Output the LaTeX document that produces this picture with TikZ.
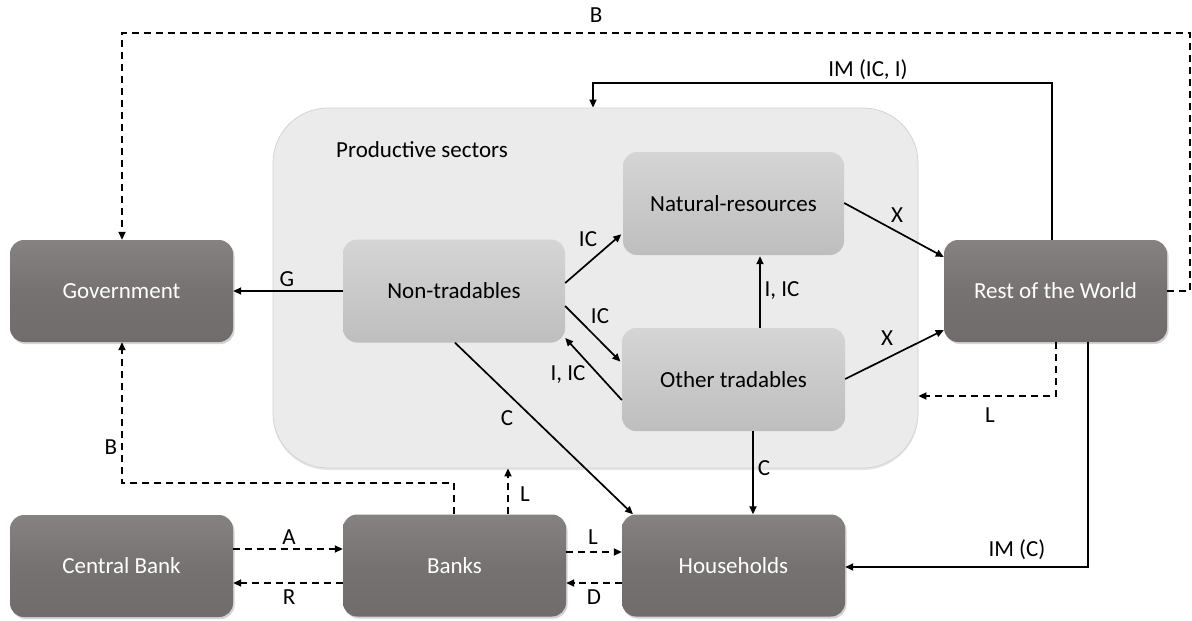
\documentclass[tikz,border=0pt]{standalone}
\usepackage{fontspec}
\setmainfont{Carlito}
\usetikzlibrary{arrows.meta,shadows}
\definecolor{dtop}{RGB}{134,130,130}
\definecolor{dmid}{RGB}{118,114,114}
\definecolor{dbot}{RGB}{112,108,108}
\definecolor{ltop}{RGB}{213,213,213}
\definecolor{lbot}{RGB}{190,190,190}
\definecolor{cont}{RGB}{235,235,235}
\definecolor{contedge}{RGB}{212,212,212}
\begin{document}
\begin{tikzpicture}[x=1pt,y=-1pt,
  every node/.style={font=\fontsize{23}{27}\selectfont},
  darkbox/.style={rounded corners=14pt, minimum width=223pt, minimum height=102pt,
     top color=dtop, bottom color=dbot, middle color=dmid, text=white,
     drop shadow={opacity=0.35, shadow xshift=1.5pt, shadow yshift=-2pt}},
  lightbox/.style={rounded corners=14pt, minimum width=222pt, minimum height=103pt,
     top color=ltop, bottom color=lbot},
  container/.style={rounded corners=55pt, minimum width=645pt, minimum height=360pt,
     fill=cont, draw=contedge, line width=0.8pt,
     drop shadow={opacity=0.2, shadow xshift=0pt, shadow yshift=-2pt}},
  arr/.style={line width=1.7pt, -{Triangle[length=8pt,width=7pt]}},
  darr/.style={line width=1.7pt, dash pattern=on 7pt off 5pt, -{Triangle[length=8pt,width=7pt]}},
  lbl/.style={inner sep=0pt}
]
\useasboundingbox (0,0) rectangle (1192,621);

% container
\node[container] (ps) at (595.5,288) {};
\node[lbl, anchor=west] (pslbl) at (336,150) {Productive sectors};

% sector boxes
\node[lightbox] (nt) at (454,291) {Non-tradables};
\node[lightbox, minimum width=221pt] (nr) at (733.5,203.5) {Natural-resources};
\node[lightbox, minimum width=223pt] (ot) at (733.5,379.5) {Other tradables};

% dark boxes
\node[darkbox] (gov) at (121.5,291) {Government};
\node[darkbox] (row) at (1055.5,291) {Rest of the World};
\node[darkbox] (cb) at (121.5,566) {Central Bank};
\node[darkbox] (banks) at (454.5,565.5) {Banks};
\node[darkbox] (hh) at (733.5,565.5) {Households};

% coordinates for bends
\coordinate (btr) at (1190,33);
\coordinate (btl) at (122,33);
\coordinate (imc) at (593,83);
\coordinate (bbl) at (122,483);

% connectors
\draw[arr] (nt.west) -- (gov.east);
\draw[arr, shorten >=2pt] (nt.east |- 0,283) -- (nr.west |- 0,233);
\draw[arr, shorten >=2pt] (nt.east |- 0,306) -- (ot.west |- 0,363);
\draw[arr] (ot.west |- 0,400) -- (nt.east |- 0,338);
\draw[arr, shorten >=1pt] (ot.north -| 760,0) -- (nr.south -| 760,0);
\draw[arr] (nt.south -| 455,0) -- (hh.north -| 633,0);
\draw[arr] (ot.south -| 753,0) -- (hh.north -| 753,0);
\draw[arr] (nr.east |- 0,203) -- (row.west |- 0,257);
\draw[arr] (ot.east |- 0,379) -- (row.west |- 0,330);
\draw[arr] (row.north -| 1052,0) |- (imc) -- (ps.north -| imc);
\draw[darr] (row.east) -| (btr) -- (btl) -- (gov.north -| btl);
\draw[darr] (banks.north -| 454,0) |- (bbl) -- (gov.south -| bbl);
\draw[darr] (banks.north -| 508,0) -- (ps.south -| 508,0);
\draw[darr] (cb.east |- 0,549) -- (banks.west |- 0,549);
\draw[darr] (banks.west |- 0,583) -- (cb.east |- 0,583);
\draw[darr] (banks.east |- 0,552) -- (hh.west |- 0,552);
\draw[darr] (hh.west |- 0,583) -- (banks.east |- 0,583);
\draw[darr] (row.south -| 1056,0) |- (ps.east |- 0,396);
\draw[arr] (row.south -| 1088,0) |- (hh.east |- 0,567);

% labels
\node[lbl] (lB1) at (596,15) {B};
\node[lbl] (lIM1) at (868,70) {IM (IC, I)};
\node[lbl] (lG) at (287,279) {G};
\node[lbl] (lIC1) at (588,239) {IC};
\node[lbl] (lIC2) at (600,316) {IC};
\node[lbl] (lIIC1) at (568,375) {I, IC};
\node[lbl] (lIIC2) at (782,291) {I, IC};
\node[lbl] (lX1) at (897,215) {X};
\node[lbl] (lX2) at (887,338) {X};
\node[lbl] (lC1) at (507,418) {C};
\node[lbl] (lC2) at (764,468) {C};
\node[lbl] (lL1) at (990,415) {L};
\node[lbl] (lB2) at (111,447) {B};
\node[lbl] (lL2) at (525,494) {L};
\node[lbl] (lA) at (289,537) {A};
\node[lbl] (lL3) at (593,537) {L};
\node[lbl] (lR) at (289,597) {R};
\node[lbl] (lD) at (594,597) {D};
\node[lbl] (lIM2) at (1017,550) {IM (C)};
\end{tikzpicture}
\end{document}
